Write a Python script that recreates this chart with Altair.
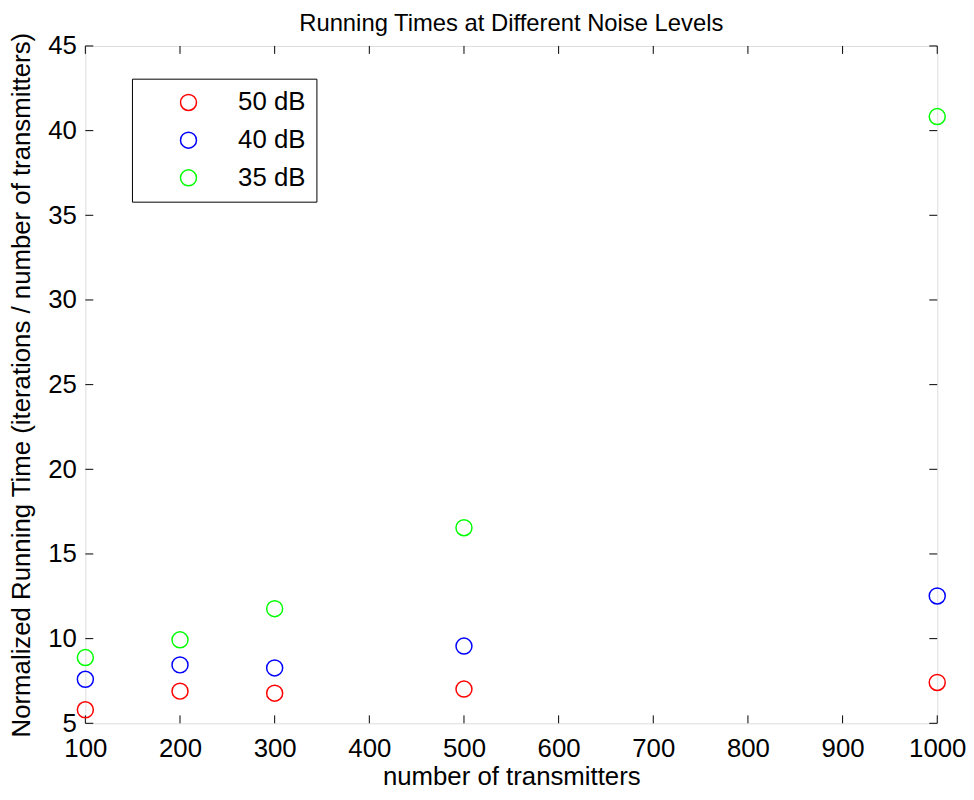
import altair as alt
import pandas as pd

transmitters = [100, 200, 300, 500, 1000]
noise_levels = ["50 dB", "40 dB", "35 dB"]
series = {
    "50 dB": [5.80, 6.90, 6.78, 7.02, 7.41],
    "40 dB": [7.60, 8.45, 8.27, 9.56, 12.52],
    "35 dB": [8.88, 9.93, 11.77, 16.55, 40.83],
}
colors = ["#ff0000", "#0000ff", "#00ff00"]
x_ticks = [100, 200, 300, 400, 500, 600, 700, 800, 900, 1000]
y_ticks = [5, 10, 15, 20, 25, 30, 35, 40, 45]

rows = []
for lvl in noise_levels:
    for t, v in zip(transmitters, series[lvl]):
        rows.append({"transmitters": t, "time": v, "noise": lvl})
df = pd.DataFrame(rows)

W, H = 859, 683
TL = 8
FONT = "Liberation Sans"
FS = 26

xs = alt.Scale(domain=[100, 1000], nice=False, zero=False)
ys = alt.Scale(domain=[5, 45], nice=False, zero=False)

points = alt.Chart(df).mark_point(shape="circle", filled=False, size=260, strokeWidth=1.5,
                                  opacity=1).encode(
    x=alt.X("transmitters:Q", scale=xs, title="number of transmitters",
            axis=alt.Axis(values=x_ticks, format="d", domain=False, ticks=False, grid=False,
                          labelFontSize=FS, titleFontSize=FS, labelPadding=12,
                          titlePadding=3, labelFlush=False, labelOverlap=False,
                          labelFont=FONT, titleFont=FONT, titleFontWeight="normal",
                          labelColor="black", titleColor="black")),
    y=alt.Y("time:Q", scale=ys,
            title="Normalized Running Time (iterations / number of transmitters)",
            axis=alt.Axis(values=y_ticks, domain=False, ticks=False, grid=False,
                          labelFontSize=FS, titleFontSize=FS, labelPadding=9,
                          titlePadding=13, labelOverlap=False,
                          labelFont=FONT, titleFont=FONT, titleFontWeight="normal",
                          labelColor="black", titleColor="black")),
    color=alt.Color("noise:N", scale=alt.Scale(domain=noise_levels, range=colors),
                    legend=alt.Legend(title=None, orient="none", legendX=47, legendY=33,
                                      strokeColor="black", fillColor="white", padding=11,
                                      labelFontSize=FS, labelFont=FONT, labelColor="black",
                                      symbolSize=260, symbolType="circle", symbolOpacity=1,
                                      symbolStrokeWidth=1.5, symbolOffset=33,
                                      labelOffset=37, rowPadding=12)),
)

xdf = pd.DataFrame({"t": x_ticks})
ydf = pd.DataFrame({"v": y_ticks})

xb = alt.Chart(xdf).mark_rule(color="black", strokeWidth=1).encode(
    x=alt.X("t:Q", scale=xs), y=alt.value(H), y2=alt.value(H - TL))
xt = alt.Chart(xdf).mark_rule(color="black", strokeWidth=1).encode(
    x=alt.X("t:Q", scale=xs), y=alt.value(0), y2=alt.value(TL))
yl = alt.Chart(ydf).mark_rule(color="black", strokeWidth=1).encode(
    y=alt.Y("v:Q", scale=ys), x=alt.value(0), x2=alt.value(TL))
yr = alt.Chart(ydf).mark_rule(color="black", strokeWidth=1).encode(
    y=alt.Y("v:Q", scale=ys), x=alt.value(W), x2=alt.value(W - TL))

chart = alt.layer(xb, xt, yl, yr, points).properties(
    width=W, height=H,
    title=alt.TitleParams("Running Times at Different Noise Levels", fontSize=24,
                          fontWeight="normal", font=FONT, color="black", offset=-4),
    padding={"left": 1, "top": 0, "right": 0, "bottom": 0},
).configure_view(stroke="black", strokeWidth=2).configure(background="white")

chart.save("out.html", embed_options={"renderer": "svg", "actions": False})
